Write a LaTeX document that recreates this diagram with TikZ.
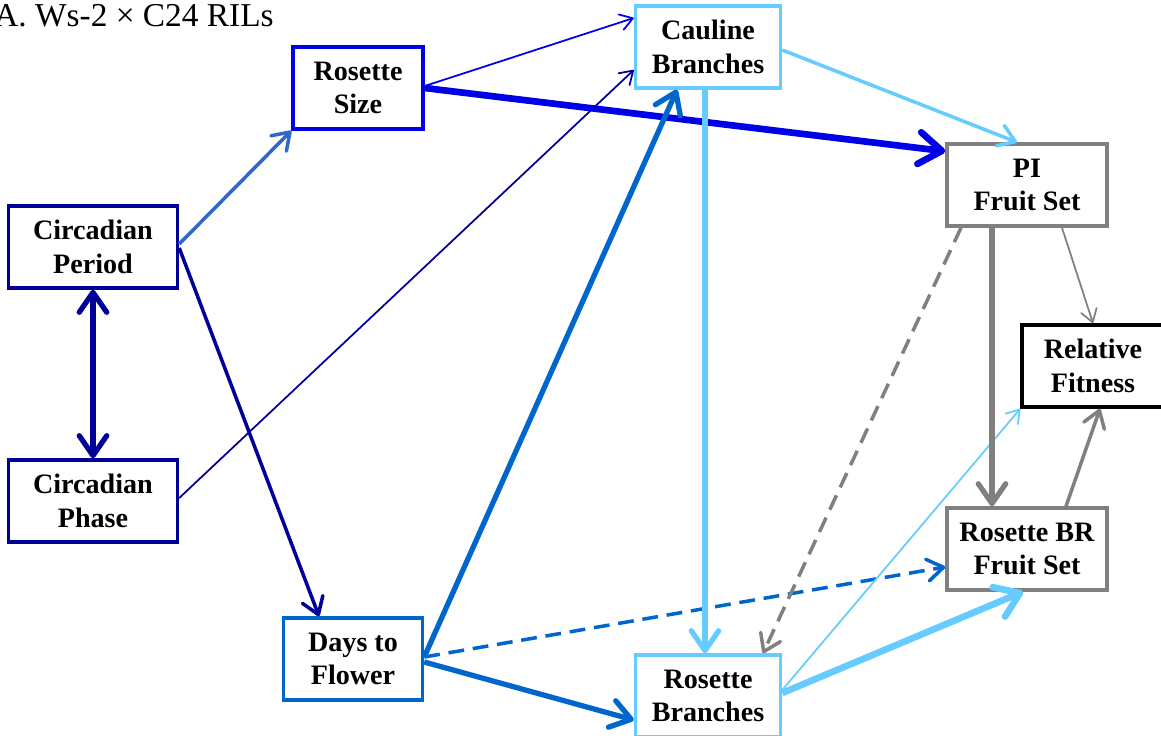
\documentclass[tikz,border=0pt]{standalone}
\usepackage{fontspec}
\setmainfont{Liberation Serif}
\usetikzlibrary{arrows.meta,calc,positioning}
\definecolor{navy}{RGB}{0,0,153}
\definecolor{brightblue}{RGB}{0,0,230}
\definecolor{midblue}{RGB}{51,102,204}
\definecolor{flowerblue}{RGB}{0,102,204}
\definecolor{skyblue}{RGB}{102,204,255}
\definecolor{fruitgray}{RGB}{128,128,128}

\begin{document}
\begin{tikzpicture}[
  x=0.02cm, y=-0.02cm,
  trait/.style={rectangle, draw, line width=2pt, minimum height=1.64cm, align=center,
    font=\fontsize{16}{19}\selectfont\bfseries, inner sep=2pt},
  thin path/.style={line width=1pt},
  mid path/.style={line width=2pt},
  wide path/.style={line width=3pt},
  widest path/.style={line width=3.8pt},
  dash path/.style={dash pattern=on 9pt off 5pt},
  >={Straight Barb[length=5pt 2.1, width=6pt 3.2, round]}
]
  \useasboundingbox (0,0) rectangle (1161,736);

  \node[anchor=base west, inner sep=0pt, font=\fontsize{19}{23}\selectfont] (title) at (-6,27) {A. Ws-2 × C24 RILs};

  \node[trait, draw=navy, minimum width=3.38cm]       (cper) at (93,247)   {Circadian\\Period};
  \node[trait, draw=navy, minimum width=3.38cm]       (cpha) at (93,501)   {Circadian\\Phase};
  \node[trait, draw=brightblue, minimum width=2.6cm]  (rsize) at (358,88)  {Rosette\\Size};
  \node[trait, draw=skyblue, minimum width=2.9cm]     (caul) at (708,47)   {Cauline\\Branches};
  \node[trait, draw=fruitgray, minimum width=3.2cm]   (pifs) at (1027,185) {PI\\Fruit Set};
  \node[trait, draw=black, minimum width=2.84cm]      (fit) at (1093,366)  {Relative\\Fitness};
  \node[trait, draw=fruitgray, minimum width=3.2cm]   (rbfs) at (1027,549) {Rosette BR\\Fruit Set};
  \node[trait, draw=flowerblue, minimum width=2.78cm] (dtf) at (353,659)   {Days to\\Flower};
  \node[trait, draw=skyblue, minimum width=2.9cm]     (rosb) at (708,696)  {Rosette\\Branches};

  % circadian traits
  \draw[<->, navy, wide path] (cper.south) -- (cpha.north);
  \draw[->, midblue, mid path] ($(cper.east)+(0,-3)$) -- (rsize.south west);
  \draw[->, navy, mid path] ($(cper.east)+(0,1)$) -- ($(dtf.north)+(-34,0)$);
  \draw[->, navy, thin path] ($(cpha.east)+(0,-3)$) -- ($(caul.west)+(0,23)$);

  % size and flowering
  \draw[->, brightblue, thin path] ($(rsize.east)+(0,-2)$) -- ($(caul.west)+(0,-29)$);
  \draw[->, brightblue, widest path] (rsize.east) -- ($(pifs.north west)+(0,9)$);
  \draw[->, flowerblue, wide path] ($(dtf.east)+(0,-2)$) -- ($(caul.south)+(-31,0)$);
  \draw[->, flowerblue, wide path] ($(dtf.east)+(0,3)$) -- ($(rosb.west)+(0,24)$);
  \draw[->, flowerblue, mid path, dash path] ($(dtf.east)+(0,-2)$) -- ($(rbfs.west)+(0,18)$);

  % branches
  \draw[->, skyblue, mid path] ($(caul.east)+(0,3)$) -- ($(pifs.north)+(-10,0)$);
  \draw[->, skyblue, wide path] ($(caul.south)+(-3,0)$) -- ($(rosb.north)+(-3,0)$);
  \draw[->, skyblue, thin path] ($(rosb.east)+(0,-6)$) -- (fit.south west);
  \draw[->, skyblue, widest path] ($(rosb.east)+(0,-3)$) -- ($(rbfs.south)+(-4,0)$);

  % fruit set
  \draw[->, fruitgray, mid path, dash path] ($(pifs.south)+(-66,0)$) -- ($(rosb.north)+(55,0)$);
  \draw[->, fruitgray, wide path] ($(pifs.south)+(-35,0)$) -- ($(rbfs.north)+(-35,0)$);
  \draw[->, fruitgray, thin path] ($(pifs.south)+(35,0)$) -- (fit.north);
  \draw[->, fruitgray, mid path] ($(rbfs.north)+(39,0)$) -- ($(fit.south)+(7,0)$);
\end{tikzpicture}
\end{document}
